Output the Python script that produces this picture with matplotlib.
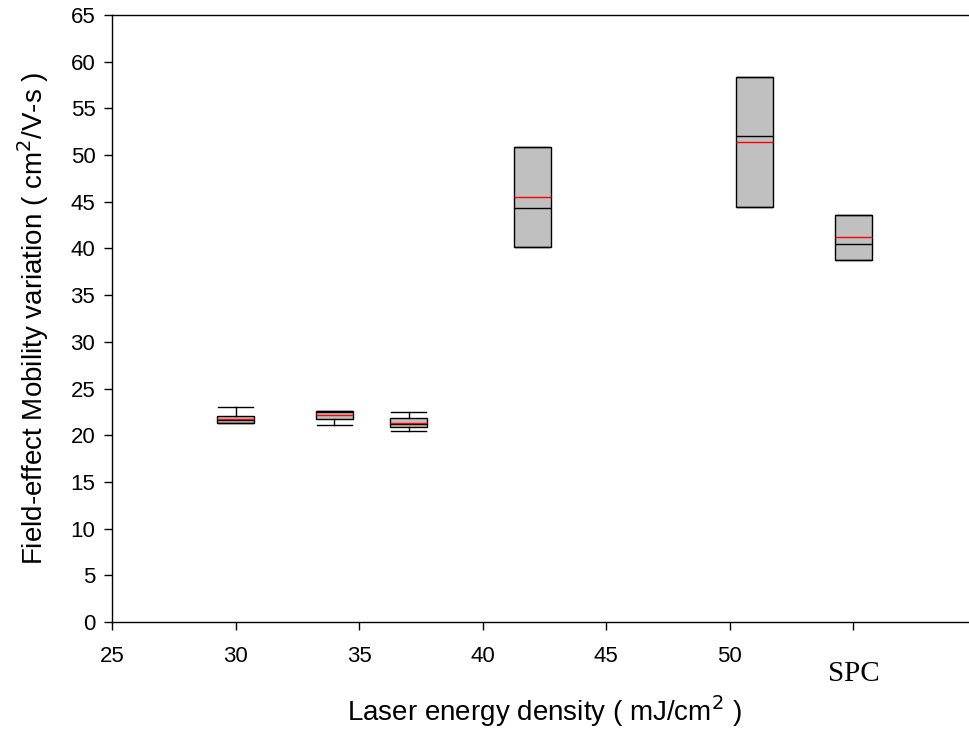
import matplotlib
matplotlib.use("Agg")
import matplotlib.pyplot as plt

positions = [30, 34, 37, 42, 51, 55]
whislo = [21.35, 21.05, 20.5, 40.15, 44.47, 38.8]
q1 = [21.35, 21.7, 20.9, 40.15, 44.47, 38.8]
med = [21.6, 22.5, 21.2, 44.3, 52.0, 40.45]
mean = [21.75, 22.2, 21.35, 45.5, 51.4, 41.25]
q3 = [22.1, 22.6, 21.8, 50.86, 58.4, 43.6]
whishi = [23.0, 22.6, 22.5, 50.86, 58.4, 43.6]

xticks = [25, 30, 35, 40, 45, 50, 55]
xticklabels = ["25", "30", "35", "40", "45", "50", ""]
yticks = list(range(0, 66, 5))

plt.rcParams['font.family'] = ['Liberation Sans', 'DejaVu Sans']

fig = plt.figure(figsize=(9.69, 7.31), dpi=100)
ax = fig.add_axes([112/969, 1-622/731, 865/969, (622-15)/731])

stats = []
for i in range(len(positions)):
    stats.append(dict(whislo=whislo[i], q1=q1[i], med=med[i], q3=q3[i],
                      whishi=whishi[i], mean=mean[i], fliers=[]))

ax.bxp(stats, positions=positions, widths=1.5, capwidths=1.4,
       patch_artist=True, showmeans=True, meanline=True,
       boxprops=dict(facecolor='#c0c0c0', edgecolor='black', linewidth=1.0),
       medianprops=dict(color='black', linewidth=1.0),
       meanprops=dict(color='red', linestyle='-', linewidth=1.0),
       whiskerprops=dict(color='black', linewidth=1.0),
       capprops=dict(color='black', linewidth=1.0),
       manage_ticks=False)

ax.set_xlim(25, 60)
ax.set_ylim(0, 65)
ax.set_xticks(xticks)
ax.set_xticklabels(xticklabels)
ax.set_yticks(yticks)
ax.tick_params(direction='out', length=6, width=1, labelsize=16)
ax.tick_params(axis='x', pad=11)
ax.tick_params(axis='y', pad=6)
ax.spines['right'].set_visible(False)
for s in ['top', 'left', 'bottom']:
    ax.spines[s].set_linewidth(1.0)

ax.set_xlabel('Laser energy density ( mJ/cm$^2$ )', fontsize=20, labelpad=19)
ax.set_ylabel('Field-effect Mobility variation ( cm$^2$/V-s )', fontsize=20, labelpad=14)
ax.text(55, -5.6, 'SPC', ha='center', va='center', fontsize=21,
        family=['Liberation Serif', 'DejaVu Serif'])

fig.savefig('out.png', dpi=100)
